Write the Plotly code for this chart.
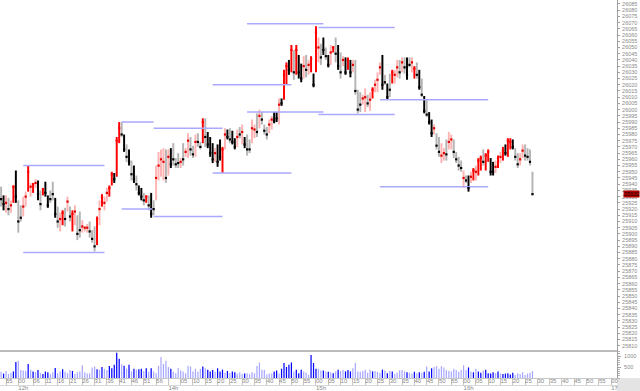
import plotly.graph_objects as go

# ---------------- data ----------------
sessions = [("11:53", "13:00"), ("14:00", "17:00")]

high = [25938, 25931, 25931, 25929, 25927, 25939, 25951, 25927, 25923, 25930,
        25934, 25955, 25941, 25941, 25944, 25943, 25935, 25937, 25942, 25931,
        25935, 25942, 25929, 25922, 25917, 25919, 25921, 25930, 25922, 25919,
        25923, 25915, 25918, 25911, 25906, 25908, 25910, 25903, 25906, 25914,
        25927, 25932, 25930, 25937, 25939, 25950, 25949, 25978, 25990, 25990,
        25980, 25972, 25968, 25959, 25955, 25947, 25939, 25937, 25933, 25931,
        25931, 25933, 25927, 25955, 25966, 25968, 25969, 25968, 25968, 25969,
        25973, 25961, 25965, 25961, 25973, 25969, 25981, 25978, 25971, 25980,
        25981, 25974, 25993, 25993, 25982, 25978, 25973, 25969, 25972, 25976,
        25970, 25985, 25984, 25985, 25983, 25977, 25984, 25986, 25988, 25978,
        25980, 25976, 25992, 25988, 25997, 26000, 25998, 25988, 25986, 25992,
        25995, 25998, 25998, 26009, 26009, 26032, 26038, 26040, 26052, 26048,
        26052, 26044, 26037, 26043, 26044, 26040, 26043, 26029, 26067, 26058,
        26053, 26058, 26050, 26044, 26052, 26051, 26058, 26052, 26046, 26043,
        26042, 26042, 26040, 26040, 26040, 26016, 26014, 26012, 26017, 26012,
        26014, 26018, 26024, 26030, 26038, 26044, 26028, 26021, 26029, 26032,
        26032, 26040, 26040, 26042, 26042, 26042, 26042, 26042, 26035, 26038,
        26032, 26025, 26011, 26008, 25998, 25992, 25988, 25981, 25978, 25973,
        25969, 25976, 25982, 25980, 25976, 25966, 25962, 25959, 25951, 25947,
        25947, 25950, 25953, 25955, 25961, 25963, 25968, 25965, 25968, 25961,
        25958, 25959, 25963, 25966, 25970, 25972, 25977, 25977, 25976, 25969,
        25965, 25965, 25972, 25972, 25969, 25968, 25950]

low = [25922, 25919, 25917, 25915, 25917, 25925, 25925, 25901, 25910, 25914,
       25922, 25934, 25930, 25933, 25937, 25927, 25919, 25931, 25930, 25921,
       25925, 25927, 25913, 25905, 25902, 25907, 25906, 25918, 25910, 25902,
       25907, 25895, 25897, 25901, 25902, 25901, 25897, 25893, 25886, 25891,
       25907, 25922, 25919, 25926, 25930, 25939, 25941, 25946, 25973, 25978,
       25966, 25958, 25955, 25943, 25941, 25935, 25931, 25927, 25923, 25925,
       25919, 25913, 25915, 25927, 25943, 25946, 25943, 25941, 25947, 25953,
       25955, 25953, 25953, 25953, 25955, 25962, 25961, 25963, 25961, 25962,
       25970, 25968, 25973, 25970, 25969, 25962, 25957, 25958, 25954, 25959,
       25949, 25968, 25976, 25973, 25972, 25968, 25970, 25977, 25972, 25969,
       25963, 25965, 25973, 25977, 25978, 25985, 25988, 25980, 25976, 25981,
       25984, 25989, 25990, 25988, 26003, 26008, 26020, 26028, 26030, 26024,
       26028, 26025, 26022, 26025, 26026, 26028, 26030, 26018, 26030, 26038,
       26036, 26044, 26040, 26034, 26036, 26046, 26038, 26032, 26025, 26035,
       26028, 26032, 26026, 26030, 26012, 25997, 25998, 26004, 25998, 26002,
       25999, 26009, 26014, 26014, 26028, 26016, 26020, 26008, 26010, 26021,
       26021, 26026, 26025, 26030, 26029, 26024, 26034, 26030, 26025, 26025,
       26016, 26010, 25997, 25994, 25988, 25978, 25980, 25968, 25962, 25957,
       25959, 25959, 25968, 25968, 25961, 25957, 25951, 25950, 25937, 25941,
       25934, 25941, 25943, 25943, 25947, 25951, 25955, 25951, 25958, 25947,
       25947, 25949, 25953, 25957, 25959, 25963, 25962, 25968, 25968, 25959,
       25953, 25955, 25961, 25959, 25959, 25955, 25931]

close = [25928, 25924, 25925, 25920, 25923, 25938, 25930, 25910, 25913, 25922,
         25930, 25950, 25938, 25940, 25941, 25932, 25924, 25936, 25933, 25923,
         25928, 25932, 25916, 25910, 25912, 25917, 25912, 25926, 25914, 25916,
         25918, 25900, 25903, 25906, 25905, 25905, 25902, 25896, 25890, 25912,
         25920, 25930, 25925, 25933, 25937, 25948, 25944, 25975, 25985, 25980,
         25968, 25962, 25958, 25948, 25944, 25940, 25933, 25930, 25927, 25930,
         25923, 25916, 25920, 25945, 25955, 25960, 25958, 25945, 25962, 25956,
         25960, 25956, 25957, 25958, 25960, 25966, 25975, 25968, 25964, 25974,
         25974, 25970, 25990, 25978, 25972, 25965, 25960, 25965, 25958, 25962,
         25968, 25980, 25978, 25976, 25974, 25970, 25978, 25980, 25982, 25972,
         25968, 25968, 25985, 25984, 25982, 25995, 25992, 25983, 25980, 25988,
         25992, 25991, 25993, 26004, 26005, 26028, 26035, 26032, 26048, 26030,
         26048, 26030, 26025, 26035, 26032, 26036, 26041, 26020, 26062, 26050,
         26042, 26048, 26043, 26036, 26046, 26050, 26045, 26035, 26030, 26040,
         26030, 26040, 26030, 26036, 26015, 26000, 26004, 26009, 26010, 26005,
         26008, 26016, 26020, 26024, 26034, 26020, 26022, 26010, 26016, 26030,
         26028, 26034, 26030, 26038, 26034, 26028, 26036, 26038, 26033, 26028,
         26018, 26012, 25999, 25996, 25990, 25981, 25985, 25971, 25966, 25963,
         25965, 25964, 25974, 25976, 25966, 25960, 25955, 25953, 25945, 25943,
         25937, 25946, 25951, 25950, 25959, 25961, 25958, 25963, 25966, 25950,
         25950, 25954, 25961, 25962, 25967, 25965, 25975, 25974, 25970, 25962,
         25956, 25960, 25967, 25963, 25962, 25958, 25932]

# R = up strong, r = up weak, K = down strong, k = down weak
bar_kind = [
    "k", "K", "r", "k", "r", "R", "K", "k", "k", "r",
    "r", "R", "r", "R", "r", "K", "k", "R", "K", "K",
    "k", "k", "K", "k", "r", "R", "k", "r", "k", "R",
    "r", "k", "k", "r", "r", "r", "k", "k", "k", "R",
    "r", "R", "r", "r", "R", "R", "K", "R", "R", "k",
    "K", "k", "K", "k", "K", "k", "K", "K", "k", "R",
    "k", "K", "k", "r", "r", "r", "r", "k", "r", "K",
    "k", "k", "k", "r", "k", "r", "r", "k", "k", "r",
    "k", "k", "R", "k", "K", "K", "K", "r", "K", "K",
    "R", "r", "K", "k", "K", "K", "r", "k", "r", "K",
    "k", "k", "r", "r", "k", "r", "k", "k", "k", "r",
    "r", "K", "K", "r", "K", "R", "R", "K", "R", "k",
    "R", "K", "K", "r", "k", "r", "R", "K", "R", "r",
    "k", "K", "k", "K", "r", "R", "k", "K", "k", "r",
    "K", "R", "K", "r", "k", "k", "k", "r", "r", "k",
    "r", "R", "r", "r", "r", "K", "k", "K", "k", "R",
    "r", "r", "k", "r", "k", "K", "k", "r", "R", "k",
    "K", "k", "K", "k", "K", "K", "r", "k", "k", "r",
    "r", "k", "r", "r", "k", "k", "k", "k", "r", "k",
    "K", "r", "R", "r", "R", "R", "k", "R", "R", "K",
    "K", "r", "R", "r", "R", "K", "R", "R", "K", "k",
    "k", "r", "r", "k", "k", "k", "k"]

volume = [280, 200, 320, 180, 240, 300, 730, 780, 360, 340,
          320, 640, 380, 300, 260, 360, 220, 180, 300, 260,
          180, 260, 460, 220, 300, 400, 280, 220, 360, 320,
          180, 260, 300, 580, 260, 200, 220, 480, 520, 400,
          380, 500, 420, 360, 540, 440, 600, 1150, 880, 620,
          560, 420, 600, 300, 420, 380, 400, 420, 320, 440,
          280, 440, 300, 220, 560, 950, 640, 780, 500, 420,
          280, 220, 460, 340, 300, 220, 560, 520, 300, 420,
          280, 420, 520, 440, 380, 300, 360, 280, 440, 300,
          380, 240, 320, 240, 300, 260, 200, 260, 180, 200,
          220, 180, 260, 220, 540, 700, 380, 380, 160, 200,
          200, 300, 340, 200, 420, 680, 500, 600, 700, 300,
          380, 220, 380, 300, 240, 140, 1050, 680, 420, 420,
          340, 340, 300, 280, 260, 220, 300, 380, 320, 380,
          300, 360, 300, 440, 680, 300, 280, 320, 380, 240,
          380, 300, 320, 280, 240, 380, 340, 220, 320, 300,
          180, 240, 340, 360, 300, 260, 240, 200, 280, 220,
          260, 240, 280, 520, 300, 440, 500, 540, 420, 540,
          480, 360, 320, 300, 420, 360, 280, 380, 580, 360,
          480, 300, 260, 420, 300, 240, 340, 380, 220, 200,
          260, 220, 300, 200, 180, 200, 220, 160, 240, 140,
          220, 180, 260, 140, 200, 240, 320]

# previous-range levels: start time, end time, price
level_start = ["12:02", "12:02", "12:42", "12:42", "12:55", "12:55", "14:18",
               "14:18", "14:32", "14:32", "15:01", "15:01", "15:26", "15:26"]
level_end = ["12:35", "12:35", "12:55", "12:55", "14:22", "14:22", "14:50",
             "14:50", "15:03", "15:03", "15:32", "15:32", "16:10", "16:10"]
level_price = [25955, 25885, 25990, 25920, 25985, 25914, 26020,
               25949, 26069, 25998, 26066, 25996, 26008, 25938]

tick_times = ["11:55", "12:00", "12:06", "12:11", "12:16", "12:21", "12:26",
              "12:31", "12:36", "12:41", "12:46", "12:51", "12:56",
              "14:00", "14:05", "14:10", "14:15", "14:20", "14:25", "14:30",
              "14:35", "14:40", "14:45", "14:50", "14:55", "15:00", "15:05",
              "15:10", "15:15", "15:20", "15:25", "15:30", "15:35", "15:40",
              "15:45", "15:50", "15:55", "16:00", "16:05", "16:10", "16:15",
              "16:20", "16:25", "16:30", "16:35", "16:40", "16:45", "16:50",
              "16:55", "17:00"]
tick_text = ["55", "00", "06", "11", "16", "21", "26", "31", "36", "41", "46",
             "51", "56", "", "05", "10", "15", "20", "25", "30", "35", "40",
             "45", "50", "55", "00", "05", "10", "15", "20", "25", "30", "35",
             "40", "45", "50", "55", "00", "05", "10", "15", "20", "25", "30",
             "35", "40", "45", "50", "55", "00"]
day_times = ["12:00", "14:00", "15:00", "16:00", "17:00"]
day_text = ["12h", "14h", "15h", "16h", "17"]

# ---------------- time slots (category positions) ----------------
def to_min(t):
    h, m = t.split(":")
    return int(h) * 60 + int(m)

slots = []
for a, b in sessions:
    for m in range(to_min(a), to_min(b) + 1):
        slots.append(f"{m // 60:02d}:{m % 60:02d}")
pos = {t: i for i, t in enumerate(slots)}

n = len(close)
xs = list(range(n))

COL = {"R": "#ff0000", "r": "#ffb4b4", "K": "#000000", "k": "#b4b4b4"}
DOT = {"R": "#ff0000", "r": "#e00000", "K": "#000000", "k": "#000000"}
VCOL = {True: "#0000ff", False: "#a8a8ff"}

FONT = "Liberation Sans, Arial, sans-serif"
GRAY = "#8a8a8a"

# pixel layout (640 x 391)
W, H = 640, 391
plot_right = 617
px_per_bar = 2.46
x_first = 1.1
x0 = -x_first / px_per_bar
x1 = x0 + plot_right / px_per_bar

fig = go.Figure()

# level lines
lx, ly = [], []
for s, e, p in zip(level_start, level_end, level_price):
    lx += [pos[s], pos[e], None]
    ly += [p, p, None]
fig.add_trace(go.Scatter(x=lx, y=ly, mode="lines", xaxis="x", yaxis="y",
                         line=dict(color="#a9a9ff", width=1.5),
                         hoverinfo="skip", showlegend=False))

# price range bars
fig.add_trace(go.Bar(x=xs, y=[h - l for h, l in zip(high, low)], base=low,
                     width=0.8, xaxis="x", yaxis="y",
                     marker=dict(color=[COL[k] for k in bar_kind], line=dict(width=0)),
                     showlegend=False, hoverinfo="skip"))
# close ticks
fig.add_trace(go.Scatter(x=xs, y=close, mode="markers", xaxis="x", yaxis="y",
                         marker=dict(symbol="square", size=2.2,
                                     color=[DOT[k] for k in bar_kind], line=dict(width=0)),
                         showlegend=False, hoverinfo="skip"))

# volume
fig.add_trace(go.Bar(x=xs, y=volume, width=0.5, xaxis="x2", yaxis="y2",
                     marker=dict(color=[VCOL[k.isupper()] for k in bar_kind], line=dict(width=0)),
                     showlegend=False, hoverinfo="skip"))

# minute labels
fig.add_trace(go.Scatter(x=[pos[t] for t in tick_times], y=[0.5] * len(tick_times),
                         mode="text", text=tick_text, textposition="middle right",
                         textfont=dict(family=FONT, size=6, color=GRAY),
                         xaxis="x3", yaxis="y3", cliponaxis=False,
                         showlegend=False, hoverinfo="skip"))
# day labels
fig.add_trace(go.Scatter(x=[pos[t] for t in day_times], y=[0.5] * len(day_times),
                         mode="text", text=day_text, textposition="middle right",
                         textfont=dict(family=FONT, size=6, color=GRAY),
                         xaxis="x4", yaxis="y4", cliponaxis=False,
                         showlegend=False, hoverinfo="skip"))

def dom(top_px, bot_px):
    return [1 - bot_px / H, 1 - top_px / H]

xr = [x0, x1]
xd = [0, plot_right / W]
common_x = dict(range=xr, domain=xd, showgrid=False, zeroline=False,
                showticklabels=False, ticks="", fixedrange=True)

price_top, price_bot = 26088.2, 25806.6

fig.update_layout(
    width=W, height=H,
    margin=dict(l=0, r=0, t=0, b=0),
    paper_bgcolor="white", plot_bgcolor="white",
    barmode="overlay", showlegend=False,
    font=dict(family=FONT, size=5.5, color=GRAY),
    xaxis=dict(**common_x, anchor="y", showline=True, linecolor="#bcbcbc", linewidth=2),
    xaxis2=dict(**common_x, anchor="y2", matches="x", showline=True,
                linecolor="#c8c8c8", linewidth=1),
    xaxis3=dict(range=xr, domain=xd, anchor="y3", matches="x", zeroline=False,
                showticklabels=False, ticks="", tickmode="array",
                tickvals=[pos[t] for t in tick_times],
                showgrid=True, gridcolor="#c4c4c4", gridwidth=1,
                showline=True, linecolor="#d8d8d8", linewidth=1),
    xaxis4=dict(**common_x, anchor="y4", matches="x"),
    yaxis=dict(domain=dom(0, 350), anchor="x", side="right", range=[price_bot, price_top],
               tickmode="linear", tick0=25810, dtick=5, tickformat="d",
               ticks="outside", ticklen=2, ticklabelstandoff=1,
               tickcolor="#a0a0a0", tickfont=dict(family=FONT, size=5.5, color=GRAY),
               showline=True, linecolor="#a0a0a0", linewidth=1,
               showgrid=False, zeroline=False, fixedrange=True),
    yaxis2=dict(domain=dom(350, 378), anchor="x2", side="right", range=[0, 1273],
                tickmode="array", tickvals=[500, 1000], tickformat="d",
                ticks="outside", ticklen=3, ticklabelstandoff=2,
                tickcolor="#a0a0a0", tickfont=dict(family=FONT, size=5.5, color=GRAY),
                minor=dict(ticks="outside", ticklen=2, dtick=100, tickcolor="#b0b0b0"),
                showline=True, linecolor="#a0a0a0", linewidth=1,
                showgrid=False, zeroline=False, fixedrange=True),
    yaxis3=dict(domain=dom(378, 385), anchor="x3", range=[0, 1], visible=False),
    yaxis4=dict(domain=dom(385, 391), anchor="x4", range=[0, 1], visible=False),
    shapes=[dict(type="rect", xref="paper", yref="paper",
                 x0=plot_right / W, x1=1, y0=0, y1=13 / H,
                 fillcolor="#e4e4e4", line=dict(width=0), layer="below")],
    annotations=[dict(xref="paper", yref="y", x=1, xanchor="right",
                      y=close[-1], yanchor="middle",
                      text=f"{close[-1]:.0f}", showarrow=False,
                      font=dict(family=FONT, size=5.5, color="#1a0000"),
                      bgcolor="#b00000", borderpad=0)],
)

fig.write_html("out.html", config={"displayModeBar": False, "staticPlot": True},
               post_script=("document.body.style.margin='0';"
                            "document.body.style.overflow='hidden';"
                            "document.documentElement.style.overflow='hidden';"))
